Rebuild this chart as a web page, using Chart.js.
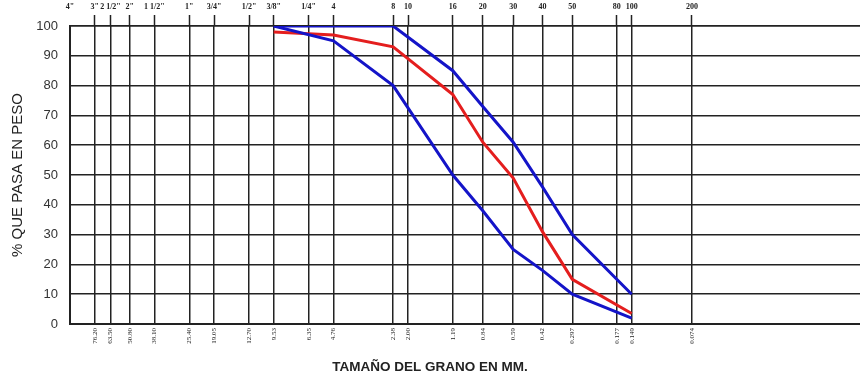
<!DOCTYPE html>
<html>
<head>
<meta charset="utf-8">
<script src="https://cdn.jsdelivr.net/npm/chart.js@4/dist/chart.umd.min.js"></script>
<style>
  body { margin: 0; background: #fff; }
  .caja { width: 860px; height: 376px; }
</style>
</head>
<body>
<div class="caja"><canvas class="grafico"></canvas></div>
<script>
// tamices (mm) y etiquetas
const tamicesMM = [101.6, 76.2, 63.5, 50.8, 38.1, 25.4, 19.05, 12.7, 9.53, 6.35, 4.76, 2.38, 2.00, 1.19, 0.84, 0.59, 0.42, 0.297, 0.177, 0.149, 0.074];
const etiquetasArriba = ['4"', '3"', '2 1/2"', '2"', '1 1/2"', '1"', '3/4"', '1/2"', '3/8"', '1/4"', '4', '8', '10', '16', '20', '30', '40', '50', '80', '100', '200'];
const etiquetasAbajo = ['', '76.20', '63.50', '50.80', '38.10', '25.40', '19.05', '12.70', '9.53', '6.35', '4.76', '2.38', '2.00', '1.19', '0.84', '0.59', '0.42', '0.297', '0.177', '0.149', '0.074'];

// curvas granulometricas (% que pasa)
const aberturas = [9.53, 4.76, 2.38, 1.19, 0.84, 0.59, 0.42, 0.297, 0.149];
const limiteSuperior = [100, null, 100, 85, 73, 61, 46, 30, 10];
const muestra = [98, 97, 93, 77, 61, 49, 31, 15, 3.5];
const limiteInferior = [100, 95, 80, 50, 38, 25, 18, 10, 2];

const canvas = document.querySelector('.grafico');
const azul = '#1414c8';
const rojo = '#e41e1e';
const linea = '#222';
const xMin = 0.0105;
const xMax = 101.6;

const puntos = (serie) => aberturas.map((x, i) => ({ x: x, y: serie[i] }));

const serie = (datos, color) => ({
    data: puntos(datos),
    borderColor: color,
    backgroundColor: color,
    borderWidth: 3,
    pointRadius: 0,
    tension: 0,
    spanGaps: true,
    xAxisID: 'x',
    yAxisID: 'y'
});

const ticksTamices = (scale) => {
    scale.ticks = tamicesMM.map((v) => ({ value: v }));
};

new Chart(canvas, {
    type: 'line',
    data: {
        datasets: [
            serie(limiteSuperior, azul),
            serie(limiteInferior, azul),
            serie(muestra, rojo)
        ]
    },
    options: {
        animation: false,
        responsive: true,
        maintainAspectRatio: false,
        layout: { padding: 0 },
        plugins: {
            legend: { display: false },
            tooltip: { enabled: false },
            title: {
                display: true,
                position: 'bottom',
                text: 'TAMAÑO DEL GRANO EN MM.',
                color: '#222',
                font: { family: 'Liberation Sans', size: 13.5, weight: 'bold' },
                padding: { top: 0, bottom: 1 }
            }
        },
        scales: {
            x: {
                type: 'logarithmic',
                position: 'bottom',
                reverse: true,
                min: xMin,
                max: xMax,
                afterBuildTicks: ticksTamices,
                afterFit: (s) => { s.height = 34.8; },
                ticks: {
                    autoSkip: false,
                    minRotation: 90,
                    maxRotation: 90,
                    padding: 4,
                    color: '#222',
                    font: { family: 'Liberation Serif', size: 7 },
                    callback: (v, i) => etiquetasAbajo[i]
                },
                grid: { color: linea, lineWidth: 1.5, drawTicks: false },
                border: { display: true, color: linea, width: 2 }
            },
            xTop: {
                type: 'logarithmic',
                position: 'top',
                reverse: true,
                min: xMin,
                max: xMax,
                afterBuildTicks: ticksTamices,
                afterFit: (s) => { s.height = 26; },
                ticks: {
                    autoSkip: false,
                    minRotation: 0,
                    maxRotation: 0,
                    padding: 3,
                    color: '#222',
                    font: { family: 'Liberation Serif', size: 8, weight: 'bold' },
                    callback: (v, i) => etiquetasArriba[i]
                },
                grid: {
                    drawOnChartArea: false,
                    tickLength: 11,
                    tickWidth: 1.5,
                    tickColor: (c) => c.index === 0 ? 'rgba(0,0,0,0)' : linea
                },
                border: { display: true, color: linea, width: 1.5 }
            },
            y: {
                min: 0,
                max: 100,
                afterFit: (s) => { s.width = 70; },
                ticks: {
                    stepSize: 10,
                    padding: 12,
                    color: '#333',
                    font: { family: 'Liberation Sans', size: 13 }
                },
                grid: { color: linea, lineWidth: 1.5, drawTicks: false },
                border: { display: true, color: linea, width: 2 },
                title: {
                    display: true,
                    text: '% QUE PASA EN PESO',
                    color: '#222',
                    font: { family: 'Liberation Sans', size: 15 },
                    padding: { top: 9, bottom: 0 }
                }
            }
        }
    }
});
</script>
</body>
</html>
